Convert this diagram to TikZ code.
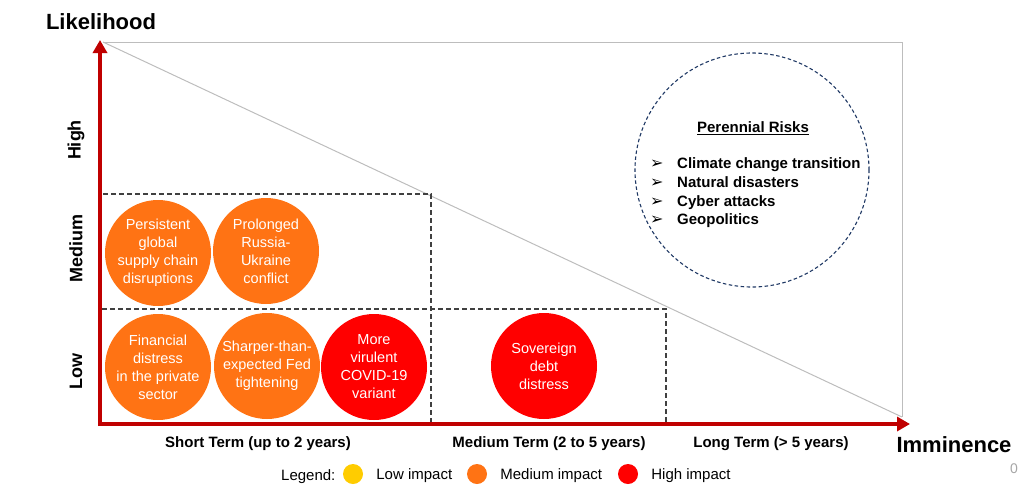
\documentclass[tikz,border=0pt]{standalone}
\usepackage{fontspec}
\setmainfont{Liberation Sans}
\newfontfamily\dingfont{DejaVu Sans}
\usetikzlibrary{arrows.meta}
\usetikzlibrary{positioning}
\usetikzlibrary{calc}

\definecolor{axisred}{HTML}{C00000}
\definecolor{riskorange}{HTML}{FF7314}
\definecolor{riskred}{HTML}{FF0000}
\definecolor{riskyellow}{HTML}{FFCC00}
\definecolor{perblue}{HTML}{1F3864}
\definecolor{framegray}{HTML}{BDBDBD}
\definecolor{dashgray}{HTML}{404040}

\newcommand{\perbullet}{\makebox[27pt][l]{\dingfont\fontsize{16}{16}\selectfont ➢}}

\tikzset{
  risk/.style={circle, minimum size=106pt, inner sep=0pt, text=white, align=center,
    font=\fontsize{14.5}{18}\selectfont},
  axisline/.style={line width=3.5pt, draw=axisred, -{Triangle[length=13pt,width=14pt]}},
  band/.style={draw=dashgray, line width=1.2pt, dash pattern=on 5pt off 3pt},
  axistitle/.style={font=\fontsize{22}{26}\selectfont\bfseries},
  levellab/.style={rotate=90, font=\fontsize{18}{21}\selectfont\bfseries},
  termlab/.style={font=\fontsize{15}{18}\selectfont\bfseries},
  legdot/.style={circle, minimum size=20pt, inner sep=0pt},
  legtext/.style={inner sep=0pt, anchor=west, font=\fontsize{15}{18}\selectfont}
}

\begin{document}
\begin{tikzpicture}[x=1pt, y=-1pt]
  \useasboundingbox (0,0) rectangle (1036,496);

  % frame and diagonal
  \coordinate (top-left) at (103,42);
  \coordinate (top-right) at (902,42);
  \coordinate (bot-right) at (902,417);
  \draw[framegray, line width=1pt] (top-left) -- (top-right) -- (bot-right);
  \draw[framegray, line width=1pt] (top-left) -- (bot-right);

  % bands
  \draw[band] (103,194) -- (431,194) -- (431,424);
  \draw[band] (102,309) -- (666,309) -- (666,424);

  % axes
  \coordinate (origin) at (100,424);
  \coordinate (ytip) at (100,40);
  \coordinate (xtip) at (910,424);
  \draw[axisline] ($(origin)+(0,2)$) -- (ytip);
  \draw[axisline] ($(origin)+(-1.75,0)$) -- (xtip);

  \node[axistitle] (likelihood) at (101,22) {Likelihood};
  \node[axistitle] (imminence) at (954,445) {Imminence};

  \node[levellab] (high) at (76,140) {High};
  \node[levellab] (medium) at (76,248) {Medium};
  \node[levellab] (low) at (76,371) {Low};

  \node[termlab] (short) at (258,444) {Short Term (up to 2 years)};
  \node[termlab] (mid) at (549,444) {Medium Term (2 to 5 years)};
  \node[termlab] (long) at (771,444) {Long Term (> 5 years)};

  % risks
  \node[risk, fill=riskorange] (supply) at (158,253) {Persistent\\global\\supply chain\\disruptions};
  \node[risk, fill=riskorange] (russia) at (266,251) {Prolonged\\Russia-\\Ukraine\\conflict};
  \node[risk, fill=riskorange] (private) at (158,367) {Financial\\distress\\in the private\\sector};
  \node[risk, fill=riskorange] (fed) at (267,366) {Sharper-than-\\expected Fed\\tightening};
  \node[risk, fill=riskred] (covid) at (374,367) {More\\virulent\\COVID-19\\variant};
  \node[risk, fill=riskred] (sovereign) at (544,366) {Sovereign\\debt\\distress};

  % perennial risks
  \node[circle, draw=perblue, line width=1.1pt, dash pattern=on 3.5pt off 2.5pt,
    minimum size=234pt, inner sep=0pt] (perennial) at (752,170) {};
  \node[font=\fontsize{15}{18}\selectfont\bfseries] (pertitle) at (753,128) {\underline{Perennial Risks}};
  \node[inner sep=0pt, anchor=west, align=left, font=\fontsize{15}{18.7}\selectfont\bfseries]
    (perlist) at (650,193) {%
      \perbullet Climate change transition\\
      \perbullet Natural disasters\\
      \perbullet Cyber attacks\\
      \perbullet Geopolitics};

  % legend
  \node[legtext] (legend) at (281,477) {Legend:};
  \foreach \x / \col / \lab in {353/riskyellow/Low impact, 477/riskorange/Medium impact, 628/riskred/High impact} {
    \node[legdot, fill=\col] (dot\x) at (\x,474) {};
    \node[legtext, right=13pt of dot\x, yshift=-1.5pt] (lab\x) {\lab};
  }

  \node[text=gray!70, font=\fontsize{14}{16}\selectfont] (pageno) at (1014,469) {0};
\end{tikzpicture}
\end{document}
